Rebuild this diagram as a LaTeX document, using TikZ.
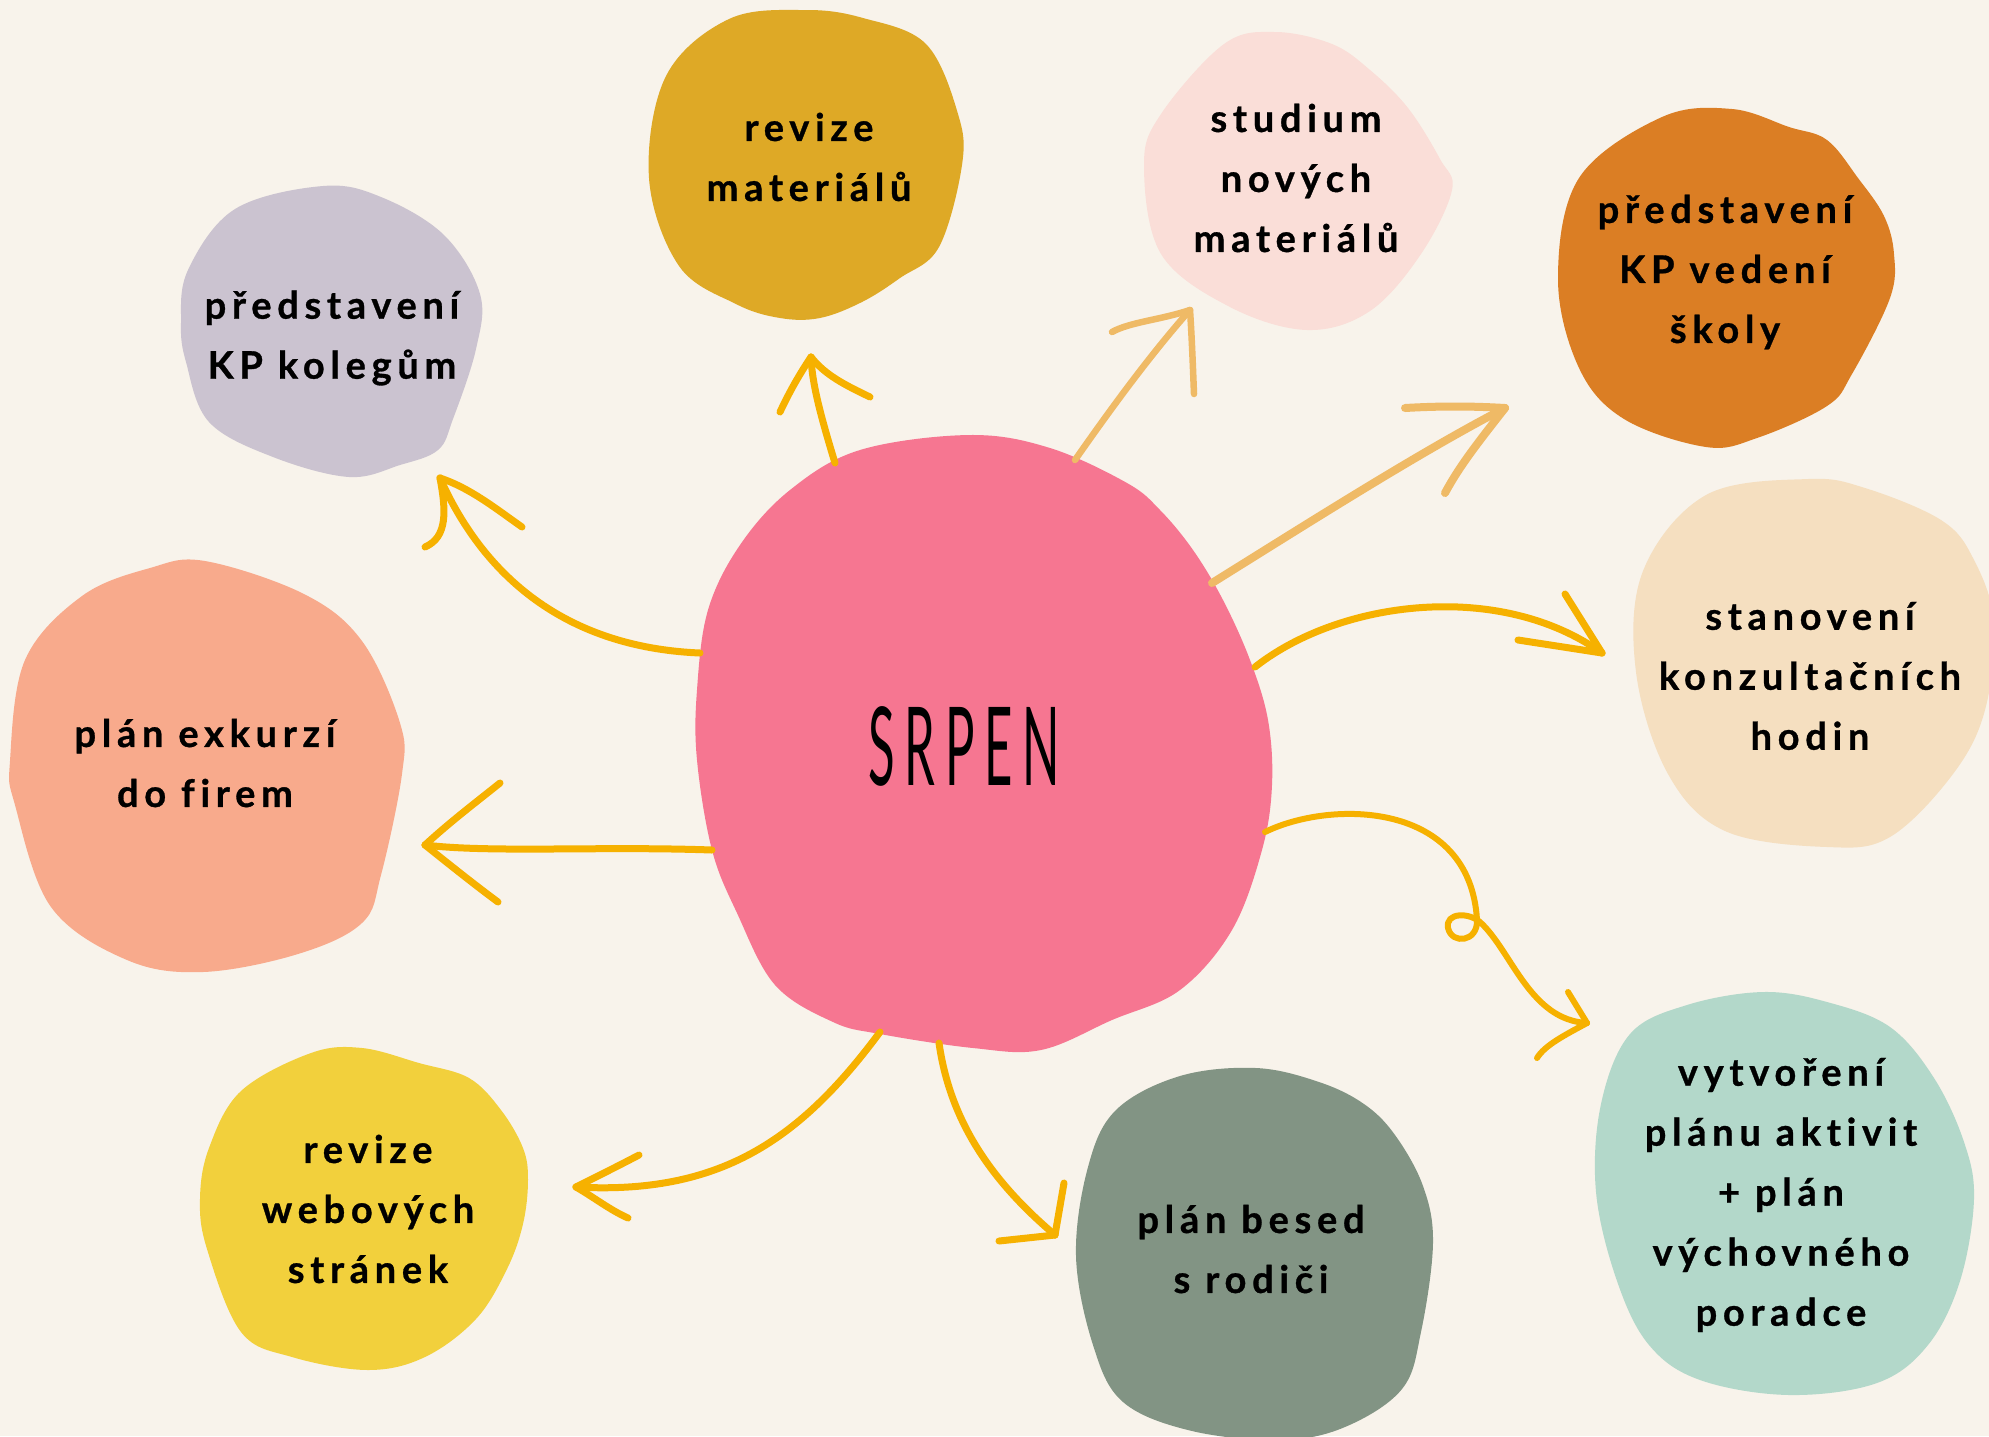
\documentclass[tikz,border=0pt]{standalone}
\usepackage{fontspec}
\setmainfont{Lato}
\newfontfamily\lblfont{Lato Bold}[LetterSpace=15,FakeBold=0.8,Ligatures=NoCommon]
\newfontfamily\srpenfont{Lato}[FakeStretch=0.45,LetterSpace=9]
\definecolor{bg}{HTML}{F8F3EB}
\definecolor{arr}{HTML}{F6B100}
\definecolor{arrlight}{HTML}{EFBA66}
\definecolor{cpink}{HTML}{F67691}
\definecolor{clav}{HTML}{CBC3D0}
\definecolor{cmust}{HTML}{DEA926}
\definecolor{clpink}{HTML}{FADED8}
\definecolor{corange}{HTML}{DB7E24}
\definecolor{cpeach}{HTML}{F5DFC0}
\definecolor{csalmon}{HTML}{F8AA8C}
\definecolor{cyellow}{HTML}{F2D03C}
\definecolor{cgreen}{HTML}{829484}
\definecolor{cmint}{HTML}{B3D8CA}
\tikzset{
  blob/.style={smooth cycle, tension=0.6},
  lbl/.style={align=center, text=black, font=\lblfont\fontsize{38}{60}\selectfont},
  arrline/.style={draw=arr, line width=7pt, line cap=round, line join=round},
  arrlite/.style={draw=arrlight, line width=6.5pt, line cap=round, line join=round},
}
\begin{document}
\begin{tikzpicture}[x=1pt,y=-1pt]
\fill[bg] (0,0) rectangle (1989,1436);
\useasboundingbox (0,0) rectangle (1989,1436);

% blobs
\fill[clav] plot[blob] coordinates {(323,186) (381,197) (444,235) (480,294) (476,349) (453,419) (438,450) (400,465) (349,477) (273,457) (209,422) (186,362) (181,323) (188,270) (235,209)};
\fill[cmust] plot[blob] coordinates {(805,10) (863,18) (926,44) (958,114) (962,165) (939,247) (900,278) (862,302) (820,318) (780,318) (736,304) (679,266) (649,178) (666,76) (729,19)};
\fill[clpink] plot[blob] coordinates {(1275,32) (1332,44) (1370,70) (1408,108) (1440,159) (1452,190) (1421,254) (1370,311) (1307,330) (1230,307) (1161,254) (1144,165) (1161,114) (1224,44)};
\fill[corange] plot[blob] coordinates {(1732,109) (1789,127) (1827,140) (1858,178) (1884,216) (1894,254) (1890,298) (1852,374) (1827,406) (1757,438) (1706,447) (1624,419) (1579,368) (1558,279) (1579,178) (1662,117)};
\fill[cpeach] plot[blob] coordinates {(1808,479) (1865,488) (1941,520) (1973,558) (1994,622) (1985,710) (1953,774) (1890,837) (1827,847) (1725,831) (1668,774) (1636,672) (1643,571) (1706,495)};
\fill[csalmon] plot[blob] coordinates {(205,561) (304,594) (362,641) (400,723) (402,774) (381,875) (362,923) (298,954) (203,972) (127,960) (51,907) (15,805) (10,761) (25,660) (82,596) (150,568)};
\fill[cyellow] plot[blob] coordinates {(362,1048) (419,1063) (469,1078) (501,1110) (523,1148) (528,1180) (523,1224) (507,1269) (476,1319) (425,1357) (368,1370) (292,1357) (241,1332) (207,1249) (200,1199) (209,1148) (241,1091) (311,1053)};
\fill[cgreen] plot[blob] coordinates {(1256,1068) (1319,1082) (1364,1104) (1395,1135) (1423,1186) (1433,1243) (1421,1332) (1402,1389) (1345,1427) (1281,1440) (1192,1431) (1123,1402) (1093,1345) (1076,1256) (1088,1167) (1116,1110) (1180,1076)};
\fill[cmint] plot[blob] coordinates {(1763,992) (1827,1002) (1890,1027) (1934,1078) (1964,1142) (1974,1199) (1960,1281) (1928,1345) (1877,1383) (1789,1395) (1700,1380) (1649,1345) (1617,1281) (1596,1192) (1601,1104) (1630,1034) (1687,1005)};
\fill[cpink] plot[blob] coordinates {(970,435) (1050,448) (1127,483) (1160,510) (1193,550) (1223,600) (1250,660) (1268,720) (1272,785) (1262,850) (1232,930) (1180,990) (1112,1020) (1041,1050) (973,1048) (880,1034) (833,1022) (775,985) (737,913) (712,850) (697,760) (697,690) (708,610) (740,545) (790,490) (860,450)};

% labels
\node[lbl] (n1) at (332,338) {představení\\KP kolegům};
\node[lbl] (n2) at (809,157) {revize\\materiálů};
\node[lbl] (n3) at (1296,178) {studium\\nových\\materiálů};
\node[lbl] (n4) at (1725,272) {představení\\KP vedení\\školy};
\node[lbl] (n5) at (1810,676) {stanovení\\konzultačních\\hodin};
\node[lbl] (n6) at (205,763) {plán exkurzí\\do firem};
\node[lbl] (n7) at (368,1209) {revize\\webových\\stránek};
\node[lbl] (n8) at (1251,1249) {plán besed\\s rodiči};
\node[lbl] (n9) at (1781,1195) {vytvoření\\plánu aktivit\\+ plán\\výchovného\\poradce};
\node[font=\srpenfont\fontsize{109}{120}\selectfont] (c) at (964,746) {SRPEN};

% arrow coordinates
\coordinate (a1s) at (700,653); \coordinate (a1t) at (440,478);
\coordinate (a2s) at (712,850); \coordinate (a2t) at (425,845);
\coordinate (a3s) at (835,463); \coordinate (a3t) at (811,357);
\coordinate (a4s) at (1075,460); \coordinate (a4t) at (1190,310);
\coordinate (a5s) at (1212,583); \coordinate (a5t) at (1505,408);
\coordinate (a6s) at (1255,667); \coordinate (a6t) at (1602,653);
\coordinate (a7s) at (1265,832); \coordinate (a7t) at (1587,1023);
\coordinate (a8s) at (939,1043); \coordinate (a8t) at (1055,1235);
\coordinate (a9s) at (880,1032); \coordinate (a9t) at (576,1187);

% A: to lavender
\draw[arrline] (a1s) .. controls (580,648) and (490,590) .. (a1t);
\draw[arrline] (a1t) .. controls (470,488) and (495,508) .. (522,527);
\draw[arrline] (a1t) .. controls (446,510) and (448,537) .. (425,547);
% B: to salmon
\draw[arrline] (a2s) .. controls (600,846) and (490,853) .. (a2t);
\draw[arrline] (a2t) .. controls (450,822) and (475,803) .. (500,783);
\draw[arrline] (a2t) .. controls (450,865) and (475,885) .. (498,902);
% C: to mustard
\draw[arrline] (a3s) .. controls (822,420) and (812,385) .. (a3t);
\draw[arrline] (a3t) .. controls (797,378) and (788,395) .. (780,412);
\draw[arrline] (a3t) .. controls (825,375) and (845,385) .. (870,397);
% D: to studium
\draw[arrlite] (a4s) .. controls (1110,410) and (1150,355) .. (a4t);
\draw[arrlite] (a4t) .. controls (1160,320) and (1130,322) .. (1112,332);
\draw[arrlite] (a4t) .. controls (1192,340) and (1193,370) .. (1194,394);
% E: to orange
\draw[arrlite, line width=8pt] (a5s) .. controls (1310,522) and (1420,452) .. (a5t);
\draw[arrlite, line width=8pt] (a5t) .. controls (1470,406) and (1440,406) .. (1405,408);
\draw[arrlite, line width=8pt] (a5t) .. controls (1480,440) and (1460,465) .. (1445,493);
% F: to peach
\draw[arrline] (a6s) .. controls (1340,600) and (1500,580) .. (a6t);
\draw[arrline] (a6t) -- (1518,640);
\draw[arrline] (a6t) -- (1565,594);
% G: to mint (curly)
\draw[arrline, line width=6pt] (a7s) .. controls (1330,800) and (1470,800) .. (1477,920)
  .. controls (1478,942) and (1452,945) .. (1448,928)
  .. controls (1445,912) and (1470,912) .. (1481,923)
  .. controls (1512,952) and (1530,1020) .. (a7t);
\draw[arrline, line width=6pt] (a7t) -- (1568,992);
\draw[arrline, line width=6pt] (a7t) .. controls (1565,1035) and (1545,1045) .. (1537,1058);
% H: to gray-green
\draw[arrline] (a8s) .. controls (950,1120) and (990,1180) .. (a8t);
\draw[arrline] (a8t) -- (1064,1183);
\draw[arrline] (a8t) -- (999,1241);
% I: to yellow
\draw[arrline] (a9s) .. controls (800,1140) and (720,1195) .. (a9t);
\draw[arrline] (a9t) .. controls (600,1175) and (620,1165) .. (639,1155);
\draw[arrline] (a9t) .. controls (595,1198) and (610,1210) .. (628,1218);
\end{tikzpicture}
\end{document}
